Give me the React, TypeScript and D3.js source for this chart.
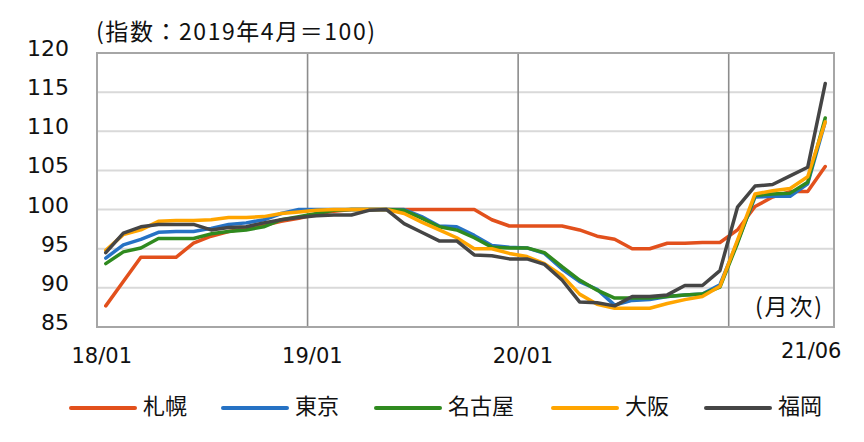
import * as d3 from "d3";

const WIDTH = 864;
const HEIGHT = 442;
const PLOT = { left: 97, top: 53, right: 834, bottom: 327 };

// 2018/01 .. 2021/06
const months: string[] = [];
for (let y = 18; y <= 21; y++) {
  for (let m = 1; m <= 12; m++) {
    if (y === 21 && m > 6) break;
    months.push(`${y}/${String(m).padStart(2, "0")}`);
  }
}

const tickLabels = ["18/01", "19/01", "20/01", "21/06"];
const yearStarts = ["19/01", "20/01", "21/01"];
const yTicks = [85, 90, 95, 100, 105, 110, 115, 120];

const sapporo = [
  87.7, 90.8, 93.9, 93.9, 93.9, 95.7, 96.6, 97.2, 97.6, 98.0, 98.5, 98.9,
  99.4, 99.8, 100, 100, 100, 100, 100, 100, 100, 100, 98.7, 97.9,
  97.9, 97.9, 97.9, 97.4, 96.6, 96.2, 95.0, 95.0, 95.7, 95.7, 95.8, 95.8,
  97.4, 100.4, 101.6, 102.3, 102.3, 105.5,
];
const tokyo = [
  93.8, 95.5, 96.2, 97.1, 97.2, 97.2, 97.6, 98.1, 98.3, 98.7, 99.5, 100.0,
  100.0, 100, 100, 100, 100, 100, 99.1, 97.9, 97.8, 96.7, 95.4, 95.2,
  95.1, 94.4, 92.4, 90.8, 89.8, 87.8, 88.4, 88.5, 88.9, 89.1, 89.2, 90.4,
  95.9, 101.6, 101.7, 101.7, 103.3, 111.2,
];
const nagoya = [
  93.1, 94.6, 95.1, 96.3, 96.3, 96.3, 96.9, 97.2, 97.4, 97.8, 98.7, 99.1,
  99.5, 99.9, 100, 100, 100, 99.9, 98.9, 97.8, 97.4, 96.4, 95.2, 95.1,
  95.1, 94.5, 92.7, 91.0, 89.7, 88.7, 88.7, 88.7, 88.9, 89.1, 89.2, 90.1,
  95.7, 101.8, 102.0, 102.1, 103.5, 111.7,
];
const osaka = [
  94.8, 96.8, 97.4, 98.5, 98.6, 98.6, 98.7, 99.0, 99.0, 99.1, 99.5, 99.7,
  99.9, 100, 100, 100, 100, 99.5, 98.4, 97.4, 96.4, 95.0, 95.0, 94.4,
  94.0, 93.1, 91.6, 89.2, 87.9, 87.4, 87.4, 87.4, 88.0, 88.5, 88.9, 90.2,
  96.1, 102.0, 102.4, 102.7, 104.2, 111.2,
];
const fukuoka = [
  94.5, 97.0, 97.8, 98.1, 98.1, 98.1, 97.4, 97.7, 97.8, 98.3, 98.7, 99.0,
  99.2, 99.3, 99.3, 99.9, 100, 98.2, 97.1, 96.0, 96.0, 94.2, 94.1, 93.7,
  93.7, 93.0, 91.0, 88.2, 88.1, 87.7, 88.9, 88.9, 89.1, 90.3, 90.3, 92.2,
  100.3, 103.0, 103.2, 104.3, 105.4, 116.1,
];

const seriesNames = ["札幌", "東京", "名古屋", "大阪", "福岡"];
const seriesValues = [sapporo, tokyo, nagoya, osaka, fukuoka];
const colors = ["#e2501c", "#2672c4", "#2f8a1f", "#ffa500", "#454545"];

const legendX = [69, 221, 374, 551, 704];

const NUM_FONT = "'DejaVu Sans', Verdana, sans-serif";
const JP_FONT = "'Noto Sans CJK JP', 'Noto Sans', sans-serif";

export default function App() {
  const x = d3
    .scaleBand()
    .domain(months)
    .range([PLOT.left, PLOT.right])
    .padding(0);
  const cx = (m: string) => (x(m) ?? 0) + x.bandwidth() / 2;

  const y = d3.scaleLinear().domain([85, 120]).range([PLOT.bottom, PLOT.top]);

  const line = d3
    .line<number>()
    .x((_, i) => cx(months[i]))
    .y((d) => y(d));

  return (
    <svg
      width={WIDTH}
      height={HEIGHT}
      style={{ position: "absolute", left: 0, top: 0, background: "#fff" }}
    >
      {/* horizontal grid */}
      {yTicks.map((t) => (
        <line
          key={t}
          x1={PLOT.left}
          x2={PLOT.right}
          y1={y(t)}
          y2={y(t)}
          stroke="#d9d9d9"
          strokeWidth={2}
        />
      ))}
      {/* year boundaries */}
      {yearStarts.map((m) => (
        <line
          key={m}
          x1={x(m)}
          x2={x(m)}
          y1={PLOT.top}
          y2={PLOT.bottom}
          stroke="#8c8c8c"
          strokeWidth={1.6}
        />
      ))}
      <rect
        x={PLOT.left}
        y={PLOT.top}
        width={PLOT.right - PLOT.left}
        height={PLOT.bottom - PLOT.top}
        fill="none"
        stroke="#a6a6a6"
        strokeWidth={2}
      />

      {/* y labels */}
      {yTicks.map((t) => (
        <text
          key={t}
          x={69}
          y={y(t) - 3}
          textAnchor="end"
          dominantBaseline="middle"
          fontFamily={NUM_FONT}
          fontSize={22}
          fill="#111"
        >
          {t}
        </text>
      ))}

      {/* x labels */}
      {tickLabels.map((m) => (
        <text
          key={m}
          x={m === "21/06" ? cx(m) - 14 : cx(m) - 4}
          y={m === "21/06" ? 352 : 357}
          textAnchor="middle"
          dominantBaseline="middle"
          fontFamily={NUM_FONT}
          fontSize={21}
          fill="#111"
        >
          {m}
        </text>
      ))}

      {/* series */}
      {seriesValues.map((vals, i) => (
        <path
          key={seriesNames[i]}
          d={line(vals) ?? ""}
          fill="none"
          stroke={colors[i]}
          strokeWidth={3.5}
          strokeLinejoin="round"
          strokeLinecap="round"
        />
      ))}

      <text
        x={96}
        y={34}
        dominantBaseline="middle"
        fontFamily={JP_FONT}
        fontSize={23}
        textLength={279}
        lengthAdjust="spacing"
        fill="#111"
      >
        (指数：2019年4月＝100)
      </text>
      <text
        x={755}
        y={309}
        dominantBaseline="middle"
        fontFamily={JP_FONT}
        fontSize={23}
        textLength={67}
        lengthAdjust="spacing"
        fill="#111"
      >
        (月次)
      </text>

      {/* legend */}
      {seriesNames.map((name, i) => (
        <g key={name}>
          <line
            x1={legendX[i] + 2}
            x2={legendX[i] + 66}
            y1={408}
            y2={408}
            stroke={colors[i]}
            strokeWidth={4}
            strokeLinecap="round"
          />
          <text
            x={legendX[i] + 74}
            y={408}
            dominantBaseline="middle"
            fontFamily={JP_FONT}
            fontSize={22}
            fill="#111"
          >
            {name}
          </text>
        </g>
      ))}
    </svg>
  );
}
